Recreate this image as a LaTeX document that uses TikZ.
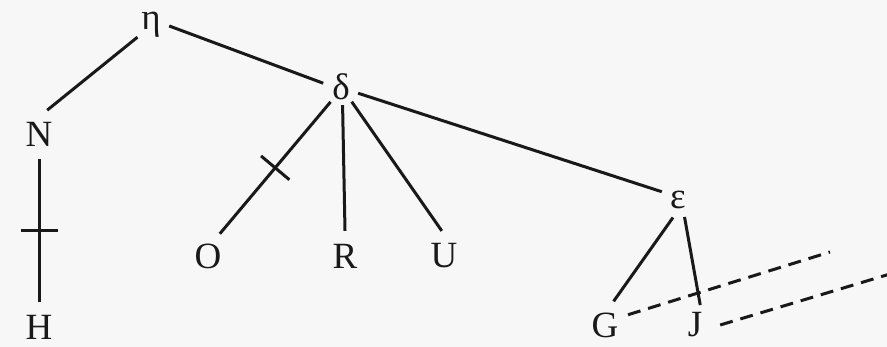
\documentclass[tikz,border=0pt]{standalone}
\usepackage{fontspec}
\setmainfont{Liberation Serif}
\usetikzlibrary{decorations.markings}
\begin{document}
\begin{tikzpicture}[x=1pt,y=-1pt,
  lbl/.style={circle, inner sep=0pt, minimum size=50pt, font=\fontsize{37}{42}\selectfont, text=black!90},
  glbl/.style={lbl, minimum size=36pt},
  edge/.style={line width=3pt, draw=black!90},
  dashedge/.style={edge, dash pattern=on 13pt off 8pt},
  tickmark/.style={postaction={decorate, decoration={markings, mark=at position 0.5 with {\draw[edge] (0,-18.5pt) -- (0,18.5pt);}}}}
]
\fill[black!3] (0,0) rectangle (887,347);
\useasboundingbox (0,0) rectangle (887,347);

\node[glbl] (eta) at (151,25) {η};
\node[lbl] (N) at (39,134) {N};
\node[lbl] (H) at (39,327) {H};
\node[glbl] (delta) at (341,87) {δ};
\node[lbl] (O) at (208,256) {O};
\node[lbl] (R) at (345,256) {R};
\node[lbl] (U) at (444,256) {U};
\node[glbl] (eps) at (678,200) {ε};
\node[lbl] (G) at (605,325) {G};
\node[lbl] (J) at (695,325) {J};
\coordinate (g2) at (830,252);
\coordinate (j2) at (890,274);

\draw[edge] (eta.222) -- (N.71);
\draw[edge] (eta.357) -- (delta.168);
\draw[edge, tickmark] (N.south) -- (H.north);
\draw[edge, tickmark] (delta.235) -- (O.62);
\draw[edge] (delta.275) -- (R.north);
\draw[edge] (delta.306) -- (U.95);
\draw[edge] (delta.340) -- (eps.153);
\draw[edge] (eps.254) -- (G.70);
\draw[edge, shorten >=-5pt] (eps.291) -- (J.80);
\draw[dashedge] (G.24) -- (g2);
\draw[dashedge] (J.east) -- (j2);
\end{tikzpicture}
\end{document}
